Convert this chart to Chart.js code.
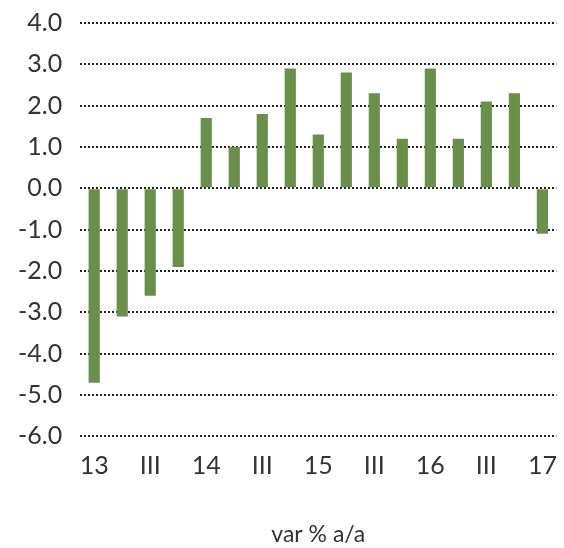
<!DOCTYPE html>
<html>
<head>
<meta charset="utf-8">
<script src="https://cdn.jsdelivr.net/npm/chart.js@4"></script>
<style>
  html, body { margin: 0; padding: 0; background: #fff; }
  #wrap { width: 564px; height: 548px; }
</style>
</head>
<body>
<div id="wrap"><canvas id="chart" width="564" height="548"></canvas></div>
<script>
const quarters = ["13", "", "III", "", "14", "", "III", "", "15", "", "III", "", "16", "", "III", "", "17"];
const changes = [-4.7, -3.1, -2.6, -1.9, 1.7, 1.0, 1.8, 2.9, 1.3, 2.8, 2.3, 1.2, 2.9, 1.2, 2.1, 2.3, -1.1];
const axisTitle = "var % a/a";

const ctx = document.getElementById("chart").getContext("2d");
new Chart(ctx, {
  type: "bar",
  data: {
    labels: quarters,
    datasets: [{
      data: changes,
      backgroundColor: "#6a8f4a",
      barPercentage: 0.4,
      categoryPercentage: 1.0
    }]
  },
  options: {
    responsive: false,
    animation: false,
    layout: { padding: { left: 0, right: 4, top: 23, bottom: 0 } },
    plugins: {
      legend: { display: false },
      tooltip: { enabled: false }
    },
    scales: {
      x: {
        grid: { display: false },
        border: { display: false },
        ticks: {
          color: "#333",
          font: { family: "Lato", size: 25 },
          autoSkip: false,
          maxRotation: 0,
          padding: 7
        },
        title: {
          display: true,
          text: axisTitle,
          color: "#333",
          font: { family: "Lato", size: 23 },
          padding: { top: 32, bottom: 0 }
        }
      },
      y: {
        min: -6,
        max: 4,
        border: { display: false, dash: [2, 2] },
        grid: {
          color: "#222",
          lineWidth: 2,
          drawTicks: false
        },
        ticks: {
          stepSize: 1,
          color: "#333",
          font: { family: "Lato", size: 25 },
          padding: 18,
          callback: v => v.toFixed(1)
        },
        afterFit(scale) {
          scale.paddingTop = 0;
          scale.paddingBottom = 0;
        }
      }
    }
  }
});
</script>
</body>
</html>
